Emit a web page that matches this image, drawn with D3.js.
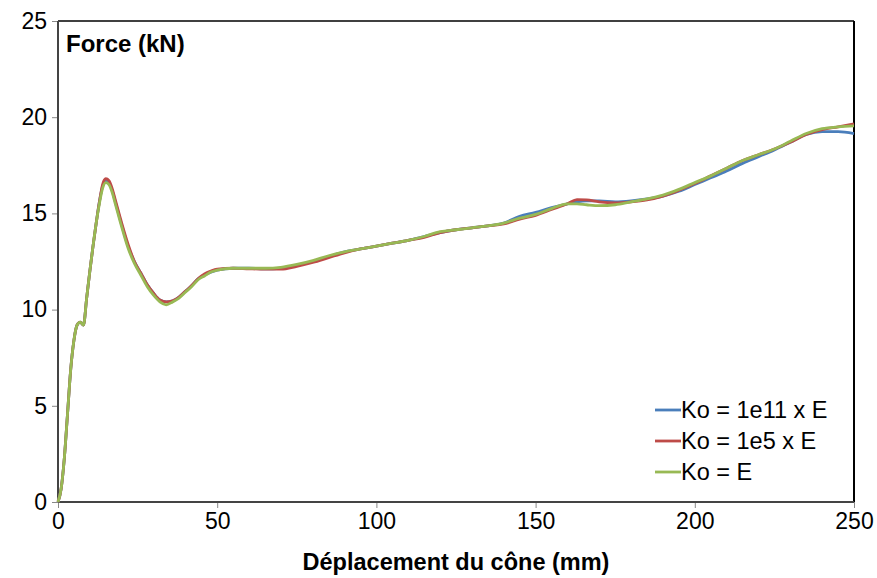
<!DOCTYPE html>
<html><head><meta charset="utf-8">
<script src="https://cdn.jsdelivr.net/npm/d3@7/dist/d3.min.js"></script>
<style>body{margin:0;background:#fff}svg text{font-family:"Liberation Sans",Arial,sans-serif}</style>
</head><body><svg id="c" width="877" height="578"></svg>
<script>
const xValues = [0,1,2,3,4,5,6,7,8,9,10,11,12,13,14,15,16,17,18,20,22,24,26,28,30,32,34,36,38,40,42,44,46,48,50,55,60,65,70,75,80,85,90,95,100,105,110,115,120,125,130,135,140,145,150,155,160,163,166,170,175,180,185,190,195,200,205,210,215,220,225,230,235,240,245,250];
const seriesNames = ["Ko = 1e11 x E","Ko = 1e5 x E","Ko = E"];
const blueValues  = [0,0.7,2.3,4.6,6.9,8.4,9.2,9.35,9.2,10.6,12.0,13.3,14.5,15.6,16.4,16.7,16.6,16.2,15.6,14.4,13.3,12.5,11.9,11.3,10.85,10.5,10.4,10.45,10.65,10.95,11.25,11.6,11.8,11.95,12.05,12.15,12.15,12.12,12.15,12.3,12.5,12.75,13.0,13.15,13.3,13.45,13.6,13.8,14.0,14.15,14.25,14.35,14.5,14.85,15.05,15.3,15.5,15.6,15.65,15.65,15.6,15.65,15.75,15.9,16.15,16.5,16.85,17.2,17.6,17.95,18.3,18.7,19.1,19.25,19.25,19.15];
const redValues   = [0,0.7,2.3,4.6,6.9,8.4,9.2,9.35,9.2,10.6,12.0,13.3,14.5,15.6,16.5,16.8,16.7,16.3,15.7,14.5,13.4,12.5,11.9,11.3,10.85,10.5,10.4,10.45,10.65,10.95,11.25,11.6,11.85,12.0,12.1,12.15,12.12,12.1,12.1,12.25,12.45,12.7,12.95,13.15,13.3,13.45,13.6,13.75,14.0,14.15,14.25,14.35,14.45,14.7,14.9,15.2,15.5,15.72,15.7,15.6,15.55,15.6,15.7,15.9,16.2,16.55,16.95,17.35,17.75,18.05,18.35,18.7,19.1,19.35,19.5,19.65];
const greenValues = [0,0.7,2.3,4.6,6.9,8.4,9.2,9.35,9.2,10.6,12.0,13.3,14.5,15.5,16.3,16.6,16.5,16.1,15.5,14.3,13.2,12.4,11.8,11.2,10.75,10.4,10.25,10.4,10.6,10.9,11.2,11.55,11.75,11.95,12.05,12.15,12.15,12.15,12.2,12.35,12.55,12.8,13.0,13.15,13.3,13.45,13.6,13.8,14.05,14.15,14.25,14.35,14.5,14.75,14.95,15.25,15.5,15.5,15.45,15.4,15.45,15.6,15.75,15.95,16.25,16.6,16.95,17.35,17.75,18.05,18.35,18.75,19.15,19.4,19.5,19.55];
const xTicks = [0,50,100,150,200,250];
const yTicks = [0,5,10,15,20,25];
const colors = ["#4a7ebb","#be4b48","#98b954"];

const svg = d3.select("#c");
const L=58,R=854,T=21,B=502;
const x = d3.scaleLinear().domain([0,250]).range([L,R]);
const y = d3.scaleLinear().domain([0,25]).range([B,T]);

const yAxis = svg.append("g").attr("transform",`translate(${L},0)`)
  .call(d3.axisLeft(y).tickValues(yTicks).tickSize(6).tickPadding(5));
const xAxis = svg.append("g").attr("transform",`translate(0,${B})`)
  .call(d3.axisBottom(x).tickValues(xTicks).tickSize(6).tickPadding(5));
[yAxis,xAxis].forEach(a=>{
  a.select(".domain").remove();
  a.selectAll(".tick line").attr("stroke","#888").attr("stroke-width",1);
  a.selectAll("text").attr("fill","#000").style("font-size","23px");
});

svg.append("line").attr("x1",L).attr("x2",R).attr("y1",T).attr("y2",T).attr("stroke","#000").attr("stroke-width",1.5);
svg.append("line").attr("x1",R).attr("x2",R).attr("y1",T).attr("y2",B).attr("stroke","#000").attr("stroke-width",2);
svg.append("line").attr("x1",L).attr("x2",L).attr("y1",T).attr("y2",B).attr("stroke","#444").attr("stroke-width",2);
svg.append("line").attr("x1",L).attr("x2",R).attr("y1",B).attr("y2",B).attr("stroke","#444").attr("stroke-width",2);

const data = [blueValues,redValues,greenValues];
const line = d3.line().x((d,i)=>x(xValues[i])).y(d=>y(d)).curve(d3.curveMonotoneX);
data.forEach((vals,k)=>{
  svg.append("path").datum(vals).attr("d",line).attr("fill","none")
    .attr("stroke",colors[k]).attr("stroke-width",2.8).attr("stroke-linejoin","round");
});

const lg = svg.append("g");
seriesNames.forEach((n,i)=>{
  const yy = 410 + i*31;
  lg.append("line").attr("x1",655).attr("x2",681).attr("y1",yy).attr("y2",yy).attr("stroke",colors[i]).attr("stroke-width",2.8);
  lg.append("text").attr("x",681).attr("y",yy).attr("dy","0.35em").style("font-size","23.5px").text(n);
});

svg.append("text").attr("x",66).attr("y",52).style("font-size","24px").style("font-weight","bold").text("Force (kN)");
svg.append("text").attr("x",456).attr("y",570).attr("text-anchor","middle").style("font-size","23.5px").style("font-weight","bold").text("Déplacement du cône (mm)");
</script></body></html>
